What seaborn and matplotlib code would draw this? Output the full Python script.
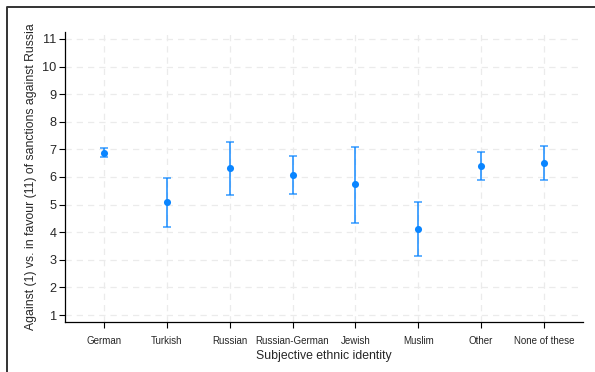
"""
plot.py — sanctions attitude by subjective ethnic identity
point estimates with confidence intervals
"""
import numpy as np
import pandas as pd
import matplotlib
matplotlib.use('Agg')
import matplotlib.pyplot as plt
from matplotlib.lines import Line2D
import seaborn as sns

categories = ["German", "Turkish", "Russian", "Russian-German",
              "Jewish", "Muslim", "Other", "None of these"]
estimate = [6.88, 5.09, 6.31, 6.09, 5.73, 4.10, 6.41, 6.49]
ci_low = [6.72, 4.20, 5.34, 5.40, 4.35, 3.13, 5.90, 5.88]
ci_high = [7.05, 5.98, 7.25, 6.75, 7.09, 5.09, 6.90, 7.11]
y_ticks = list(range(1, 12))

df = pd.DataFrame({"identity": categories, "estimate": estimate,
                   "lo": ci_low, "hi": ci_high})
df["pos"] = np.arange(len(df))

sns.set_theme(style="white")
plt.rcParams['font.family'] = ['Liberation Sans', 'DejaVu Sans']

blue = "#0a85ff"
fig = plt.figure(figsize=(5.95, 3.72), dpi=100)
ax = fig.add_axes([0.1092, 0.1344, 0.8706, 0.7796])

ax.errorbar(df["pos"], df["estimate"],
            yerr=[df["estimate"] - df["lo"], df["hi"] - df["estimate"]],
            fmt="none", ecolor=blue, alpha=0.75, elinewidth=1.4,
            capsize=3, capthick=1.2, zorder=3)
sns.scatterplot(data=df, x="pos", y="estimate", ax=ax, color=blue,
                s=26, edgecolor=blue, linewidth=0, zorder=4)

ax.set_xlim(-0.62, len(categories) - 0.38)
ax.set_ylim(0.75, 11.25)
ax.set_yticks(y_ticks)
ax.set_xticks(df["pos"])
ax.set_xticklabels(categories, fontsize=7)
ax.tick_params(axis="y", labelsize=9.2, length=4, width=0.8, pad=2,
               left=True, color="black")
ax.tick_params(axis="x", length=4, width=0.8, pad=6, bottom=True,
               color="black")
ax.grid(True, linestyle=(0, (5, 4)), color="#ebebeb", linewidth=0.9)
ax.set_axisbelow(True)
for side in ["top", "right"]:
    ax.spines[side].set_visible(False)
for side in ["left", "bottom"]:
    ax.spines[side].set_color("black")
    ax.spines[side].set_linewidth(0.9)

ax.set_xlabel("Subjective ethnic identity", fontsize=8.8, labelpad=3)
ax.set_ylabel("Against (1) vs. in favour (11) of sanctions against Russia",
              fontsize=8.8, labelpad=4)

# outer frame (top and left edges)
fig.add_artist(Line2D([7 / 595, 7 / 595, 1.0], [0.0, 1 - 7 / 372, 1 - 7 / 372],
                      transform=fig.transFigure, color="#333333", linewidth=1.4))

fig.savefig("out.png", dpi=100)
plt.close(fig)
